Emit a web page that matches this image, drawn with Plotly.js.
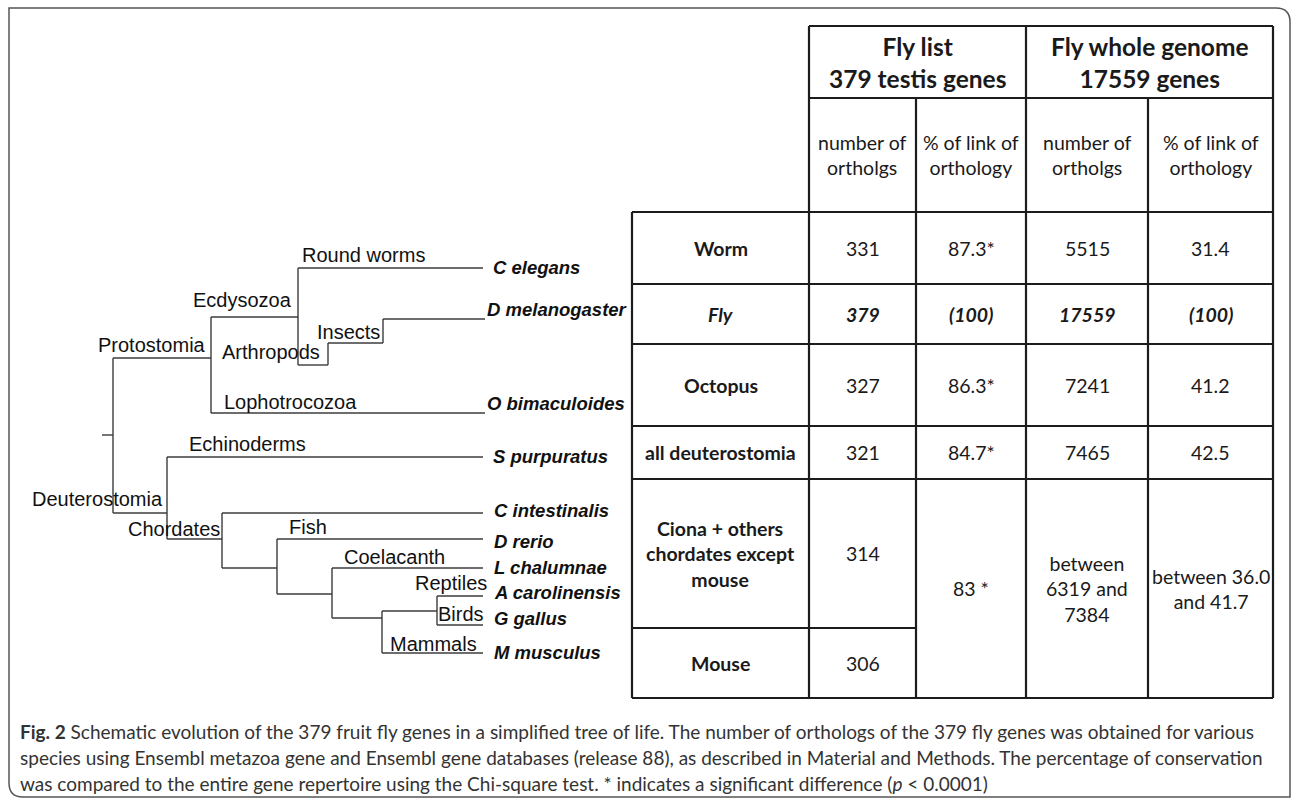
<!DOCTYPE html>
<html>
<head>
<meta charset="utf-8">
<script src="https://cdn.plot.ly/plotly-3.0.1.min.js"></script>
<style>html,body{margin:0;padding:0;background:#fff;}#chart{width:1292px;height:799px;}</style>
</head>
<body>
<div id="chart"></div>
<script>
// ---------------- DATA ----------------
const species = ['C elegans','D melanogaster','O bimaculoides','S purpuratus','C intestinalis',
                 'D rerio','L chalumnae','A carolinensis','G gallus','M musculus'];
const cladeNames = ['Round worms','Ecdysozoa','Protostomia','Arthropods','Insects','Lophotrocozoa',
                    'Echinoderms','Deuterostomia','Chordates','Fish','Coelacanth','Reptiles','Birds','Mammals'];
// tree topology: node -> parent
const treeNodes   = ['root','Protostomia','Ecdysozoa','C elegans','Arthropods','Insects','D melanogaster',
                     'O bimaculoides','Deuterostomia','S purpuratus','Chordates','C intestinalis','Vertebrates',
                     'D rerio','Sarcopterygii','L chalumnae','Amniota','Sauropsida','A carolinensis','G gallus','M musculus'];
const treeParents = [null,'root','Protostomia','Ecdysozoa','Ecdysozoa','Arthropods','Insects',
                     'Protostomia','root','Deuterostomia','Deuterostomia','Chordates','Chordates',
                     'Vertebrates','Vertebrates','Sarcopterygii','Sarcopterygii','Amniota','Sauropsida','Sauropsida','Amniota'];

const headerGroups = ['Fly list<br>379 testis genes','Fly whole genome<br>17559 genes'];
const subHeaders   = ['number of<br>ortholgs','% of link of<br>orthology','number of<br>ortholgs','% of link of<br>orthology'];
const rowLabels    = ['Worm','Fly','Octopus','all deuterostomia','Ciona + others<br>chordates except<br>mouse','Mouse'];
const listCounts   = ['331','379','327','321','314','306'];
const listPct      = ['87.3*','(100)','86.3*','84.7*','83 *'];
const genomeCounts = ['5515','17559','7241','7465','between<br>6319 and<br>7384'];
const genomePct    = ['31.4','(100)','41.2','42.5','between 36.0<br>and 41.7'];

const captionLines = [
 '<b>Fig. 2</b> Schematic evolution of the 379 fruit fly genes in a simplified tree of life. The number of orthologs of the 379 fly genes was obtained for various',
 'species using Ensembl metazoa gene and Ensembl gene databases (release 88), as described in Material and Methods. The percentage of conservation',
 'was compared to the entire gene repertoire using the Chi-square test. * indicates a significant difference (<i>p</i> &lt; 0.0001)'
];

// ---------------- LAYOUT (positions, sizes, styles) ----------------
const nodePos = {
 'root':[113,435],'Protostomia':[211,358],'Ecdysozoa':[298,317],'C elegans':[483,268],
 'Arthropods':[328,365],'Insects':[383,343],'D melanogaster':[485,319],'O bimaculoides':[485,413],
 'Deuterostomia':[167,513],'S purpuratus':[483,457],'Chordates':[222,539],'C intestinalis':[483,513],
 'Vertebrates':[277,568],'D rerio':[483,539],'Sarcopterygii':[332,594],'L chalumnae':[483,568],
 'Amniota':[382,618],'Sauropsida':[437,611],'A carolinensis':[483,596],'G gallus':[483,625],'M musculus':[483,653]
};
const rootStubX = 102;
const speciesLabelY = [267,309,403,456,510,541,567,592,618,652];
const speciesLabelX = [491,485,485,491,492,492,492,492,492,492];
// [x, y, anchor]
const cladeLabelPos = [
 [300,255,'left'],[294,300,'right'],[208,345,'right'],[220,352,'left'],[315,332,'left'],[222,402,'left'],
 [187,444,'left'],[165,499,'right'],[222,529,'right'],[287,527,'left'],[342,557,'left'],[489,583,'right'],
 [486,614,'right'],[479,644,'right']
];
const colX = [632,809,916,1026,1148,1273];
const rowY = [26,98,212,284,344,426,479,628,698];

const treeColor = '#3c3c3c', tableColor = '#1c1c1c';
const treeFont = 'Liberation Sans, Arial, sans-serif';
const tabFont = 'Lato, sans-serif';

// ---------------- BUILD ----------------
const traces = [];
// tree segments
(function(){
  const xs=[], ys=[];
  const children = {};
  treeNodes.forEach((n,i)=>{const p=treeParents[i]; if(p){(children[p]=children[p]||[]).push(n);} });
  treeNodes.forEach((n,i)=>{
    const p = treeParents[i];
    const [nx,ny] = nodePos[n];
    if(p){ const [px] = nodePos[p]; xs.push(px,nx,null); ys.push(ny,ny,null); }
    else { xs.push(rootStubX,nx,null); ys.push(ny,ny,null); }
    if(children[n]){
      const yy = children[n].map(c=>nodePos[c][1]).concat([ny]);
      xs.push(nx,nx,null); ys.push(Math.min(...yy),Math.max(...yy),null);
    }
  });
  traces.push({type:'scatter',mode:'lines',x:xs,y:ys,line:{color:treeColor,width:1.4},hoverinfo:'skip',showlegend:false});
})();
// table grid
(function(){
  const xs=[], ys=[];
  const L = colX[0], R = colX[5];
  const h = (y,x0,x1)=>{xs.push(x0,x1,null); ys.push(y,y,null);};
  const v = (x,y0,y1)=>{xs.push(x,x,null); ys.push(y0,y1,null);};
  h(rowY[0],colX[1],R); h(rowY[1],colX[1],R);
  [2,3,4,5,6,8].forEach(i=>h(rowY[i],L,R));
  h(rowY[7],L,colX[2]);
  v(L,rowY[2],rowY[8]); v(colX[1],rowY[0],rowY[8]); v(colX[2],rowY[1],rowY[8]);
  v(colX[3],rowY[0],rowY[8]); v(colX[4],rowY[1],rowY[8]); v(R,rowY[0],rowY[8]);
  traces.push({type:'scatter',mode:'lines',x:xs,y:ys,line:{color:tableColor,width:2.2},hoverinfo:'skip',showlegend:false});
})();

const ann = [];
const A = (text,x,y,size,opts={})=>ann.push(Object.assign({text:text,x:x,y:y,xref:'x',yref:'y',showarrow:false,
    xanchor:'center',yanchor:'middle',align:'center',font:{family:tabFont,size:size,color:'#1a1a1a'}},opts));

// species
species.forEach((s,i)=>A('<b><i>'+s+'</i></b>',speciesLabelX[i],speciesLabelY[i],18.5,{xanchor:'left',align:'left',font:{family:treeFont,size:18.5,color:'#111'}}));
cladeNames.forEach((c,i)=>{const p=cladeLabelPos[i]; A(c,p[0],p[1],20,{xanchor:p[2],align:p[2],font:{family:treeFont,size:20,color:'#111'}});});

// headers
const mid = (a,b)=>(a+b)/2;
A('<b>'+headerGroups[0]+'</b>',mid(colX[1],colX[3]),mid(rowY[0],rowY[1]),24.5);
A('<b>'+headerGroups[1]+'</b>',mid(colX[3],colX[5]),mid(rowY[0],rowY[1]),24.5);
subHeaders.forEach((s,i)=>A(s,mid(colX[i+1],colX[i+2]),mid(rowY[1],rowY[2]),19.5));

// rows
const rowCenters = [mid(rowY[2],rowY[3]),mid(rowY[3],rowY[4]),mid(rowY[4],rowY[5]),mid(rowY[5],rowY[6]),mid(rowY[6],rowY[7]),mid(rowY[7],rowY[8])];
const spanCenter = mid(rowY[6],rowY[8]);
rowLabels.forEach((r,i)=>{
  const italic = (i===1);
  const wrap = t => italic ? '<b><i>'+t+'</i></b>' : t;
  A('<b>'+(italic?'<i>'+r+'</i>':r)+'</b>',mid(colX[0],colX[1]),rowCenters[i],19.5);
  A(wrap(listCounts[i]),mid(colX[1],colX[2]),rowCenters[i],19.5);
  if(i<4){
    A(wrap(listPct[i]),mid(colX[2],colX[3]),rowCenters[i],19.5);
    A(wrap(genomeCounts[i]),mid(colX[3],colX[4]),rowCenters[i],19.5);
    A(wrap(genomePct[i]),mid(colX[4],colX[5]),rowCenters[i],19.5);
  }
});
A(listPct[4],mid(colX[2],colX[3]),spanCenter,19.5);
A(genomeCounts[4],mid(colX[3],colX[4]),spanCenter,19.5);
A(genomePct[4],mid(colX[4],colX[5]),spanCenter,19.5);

// caption
const capY = [731,757,783];
captionLines.forEach((t,i)=>A(t,18,capY[i],19,{xanchor:'left',align:'left',font:{family:tabFont,size:19,color:'#333'}}));

const layout = {
  width:1292,height:799,margin:{l:0,r:0,t:0,b:0},
  paper_bgcolor:'#fff',plot_bgcolor:'#fff',
  xaxis:{range:[0,1292],visible:false,fixedrange:true},
  yaxis:{range:[799,0],visible:false,fixedrange:true},
  annotations:ann,
  shapes:[{type:'path',xref:'x',yref:'y',path:'M 9 8 L 1276 8 Q 1290 8 1290 22 L 1290 797 L 23 797 Q 9 797 9 783 Z',
           line:{color:'#555',width:1.5},fillcolor:'rgba(0,0,0,0)'}],
  showlegend:false
};
Plotly.newPlot('chart',traces,layout,{staticPlot:true,displayModeBar:false});
</script>
</body>
</html>
